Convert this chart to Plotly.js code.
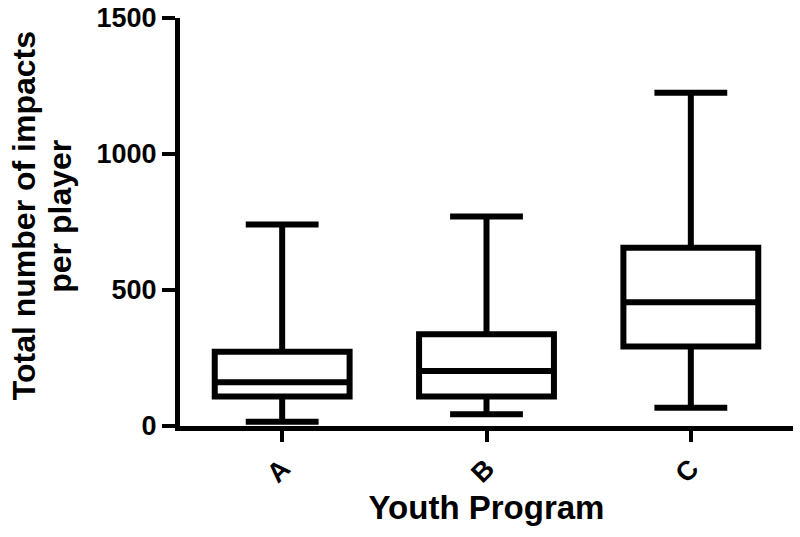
<!DOCTYPE html>
<html>
<head>
<meta charset="utf-8">
<script src="https://cdn.plot.ly/plotly-3.0.1.min.js"></script>
<style>
  html, body { margin: 0; padding: 0; background: #fff; }
  #plot { width: 800px; height: 537px; }
</style>
</head>
<body>
<div id="plot"></div>
<script>
// values (min/max whiskers, quartiles, median)
const programs = ['A', 'B', 'C'];
const lower_fence = [16, 43, 67];
const q1_vals = [108, 108, 292];
const median_vals = [161, 202, 455];
const q3_vals = [273, 337, 655];
const upper_fence = [741, 770, 1225];
const y_ticks = [0, 500, 1000, 1500];
const y_title_lines = ['Total number of impacts', 'per player'];

const font_family = '"Liberation Sans", Arial, sans-serif';

const trace = {
    type: 'box',
    x: programs,
    q1: q1_vals,
    median: median_vals,
    q3: q3_vals,
    lowerfence: lower_fence,
    upperfence: upper_fence,
    boxpoints: false,
    width: 0.66,
    whiskerwidth: 0.54,
    fillcolor: 'rgba(255,255,255,0)',
    line: {color: '#000', width: 6},
    hoverinfo: 'skip',
    showlegend: false
};

// y title drawn as two rotated annotations so the line gap stays tight
const title_x = [-0.254, -0.196];
const annotations = y_title_lines.map((t, i) => ({
    text: t,
    xref: 'paper', yref: 'paper',
    x: title_x[i], y: 0.515,
    xanchor: 'center', yanchor: 'middle',
    textangle: -90,
    showarrow: false,
    font: {size: 32, weight: 'bold', family: font_family, color: '#000'}
}));

const layout = {
    width: 800,
    height: 537,
    paper_bgcolor: '#fff',
    plot_bgcolor: '#fff',
    margin: {l: 180, r: 7, t: 18, b: 111},
    font: {family: font_family, color: '#000'},
    xaxis: {
        type: 'category',
        range: [-0.5, 2.5],
        showline: true, linewidth: 5, linecolor: '#000',
        ticks: 'outside', ticklen: 11, tickwidth: 4, tickcolor: '#000',
        tickangle: -45,
        tickfont: {size: 27, weight: 'bold', family: font_family},
        showgrid: false, zeroline: false,
        title: {text: 'Youth Program', font: {size: 33, weight: 'bold', family: font_family}, standoff: 10}
    },
    yaxis: {
        range: [0, 1500],
        tickvals: y_ticks,
        showline: true, linewidth: 5, linecolor: '#000',
        ticks: 'outside', ticklen: 13, tickwidth: 4, tickcolor: '#000',
        tickfont: {size: 27, weight: 'bold', family: font_family},
        showgrid: false, zeroline: false
    },
    annotations: annotations
};

Plotly.newPlot('plot', [trace], layout, {displayModeBar: false, staticPlot: true});
</script>
</body>
</html>
